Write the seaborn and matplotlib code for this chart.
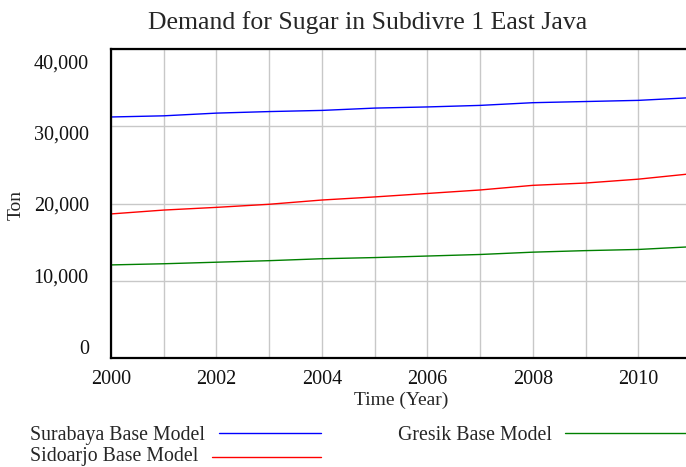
import numpy as np
import pandas as pd
import seaborn as sns
import matplotlib
matplotlib.use("Agg")
import matplotlib.pyplot as plt
from matplotlib.lines import Line2D
from matplotlib.ticker import FuncFormatter, MultipleLocator
from matplotlib.transforms import ScaledTranslation

# Simulated demand (ton) per year, base model runs
years = [2000, 2001, 2002, 2003, 2004, 2005, 2006, 2007, 2008, 2009, 2010, 2011]
surabaya = [31200, 31350, 31700, 31900, 32050, 32350, 32500, 32700, 33050, 33200, 33350, 33700]
sidoarjo = [18650, 19150, 19500, 19900, 20450, 20850, 21300, 21750, 22350, 22650, 23150, 23850]
gresik = [12050, 12200, 12400, 12600, 12850, 13000, 13200, 13400, 13700, 13900, 14050, 14400]

series_names = ["Surabaya Base Model", "Sidoarjo Base Model", "Gresik Base Model"]
series_colors = ["#0000ff", "#ff0000", "#008000"]
y_ticks = [0, 10000, 20000, 30000, 40000]
x_ticks = [2000, 2002, 2004, 2006, 2008, 2010]

df = pd.DataFrame({
    "Year": years * 3,
    "Demand": surabaya + sidoarjo + gresik,
    "Series": [series_names[0]] * len(years)
    + [series_names[1]] * len(years)
    + [series_names[2]] * len(years),
})

sns.set_style("white")
plt.rcParams["font.family"] = ["Liberation Serif", "DejaVu Serif"]

W, H = 686, 467
fig = plt.figure(figsize=(W / 100, H / 100), dpi=100)

# axes box in pixel terms: left 111, right 691, top 49, bottom 358
ax = fig.add_axes([111 / W, (H - 358) / H, (691 - 111) / W, (358 - 49) / H])

sns.lineplot(data=df, x="Year", y="Demand", hue="Series", hue_order=series_names,
             palette=series_colors, linewidth=1.0, legend=False, ax=ax)

ax.set_xlim(2000, 2011)
ax.set_ylim(0, 40000)
ax.set_xticks(x_ticks)
ax.xaxis.set_minor_locator(MultipleLocator(1))
ax.set_yticks(y_ticks)
ax.yaxis.set_major_formatter(FuncFormatter(lambda v, p: f"{int(v):,}"))

ax.grid(True, which="both", axis="x", color="#c8c8c8", linewidth=1.0)
ax.grid(True, which="major", axis="y", color="#c8c8c8", linewidth=1.0)
ax.set_axisbelow(True)

for side in ["left", "bottom", "top"]:
    ax.spines[side].set_visible(True)
    ax.spines[side].set_color("black")
    ax.spines[side].set_linewidth(1.6)
ax.spines["right"].set_visible(False)

ax.tick_params(axis="both", which="both", length=0, labelsize=14.5, colors="#111111")
ax.tick_params(axis="y", pad=16)
ax.tick_params(axis="x", pad=9)

# y labels are spread slightly inside the axis range
y_offsets = [-11, -5.5, 0, 6, 13]
for lab, off in zip(ax.get_yticklabels(), y_offsets):
    lab.set_transform(lab.get_transform() + ScaledTranslation(0, -off / 100, fig.dpi_scale_trans))

ax.set_xlabel("Time (Year)", fontsize=14)
ax.set_ylabel("Ton", fontsize=14)
ax.xaxis.set_label_coords((401 - 111) / (691 - 111), -(400 - 358) / (358 - 49))
ax.yaxis.set_label_coords(-(111 - 16) / (691 - 111), (358 - 205) / (358 - 49))
ax.xaxis.label.set_va("center")
ax.yaxis.label.set_va("center")

fig.text(368 / W, 1 - 29 / H, "Demand for Sugar in Subdivre 1 East Java",
         ha="center", va="baseline", fontsize=18.5)

# legend drawn as text rows with sample lines: (name, colour, text x, text y, line y, line x0, line x1)
legend_rows = [
    (series_names[0], series_colors[0], 30, 435.5, 433, 219, 321),
    (series_names[1], series_colors[1], 30, 456.5, 457, 212, 321),
    (series_names[2], series_colors[2], 398, 435.5, 433, 565, 686),
]
for name, color, tx, ty, ly, lx0, lx1 in legend_rows:
    fig.text(tx / W, 1 - ty / H, name, ha="left", va="center", fontsize=14.3)
    fig.add_artist(Line2D([lx0 / W, lx1 / W], [1 - ly / H, 1 - ly / H],
                          color=color, linewidth=1.0, transform=fig.transFigure))

fig.savefig("out.png", dpi=100, facecolor="white")
